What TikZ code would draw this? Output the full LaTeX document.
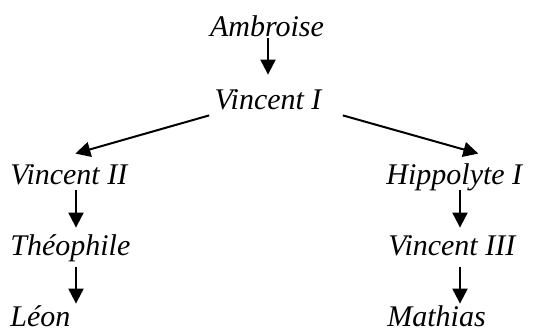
\documentclass[tikz,border=0pt]{standalone}
\usepackage{fontspec}
\setmainfont{Liberation Serif}
\usetikzlibrary{arrows.meta}

\begin{document}
\begin{tikzpicture}[
    x=0.5pt, y=0.5pt,
    person/.style={inner sep=0pt, text height=10pt, text depth=0pt,
        font=\fontsize{15}{18}\selectfont\itshape},
    mid/.style={person, anchor=base},
    col/.style={person, anchor=base west},
    arr/.style={line width=1pt, -{Triangle[width=7.5pt,length=7.5pt]}},
]
    \useasboundingbox (0,0) rectangle (534,331);
    \node [mid] (amb) at (267,294) {Ambroise};
    \node [mid] (vi) at (268,221) {Vincent I};
    \node [col] (v2) at (10,146) {Vincent II};
    \node [col] (theo) at (10,75) {Théophile};
    \node [col] (leon) at (10,4) {Léon};
    \node [col] (hip) at (386,146) {Hippolyte I};
    \node [col] (v3) at (388,75) {Vincent III};
    \node [col] (math) at (387,4) {Mathias};
    \coordinate (left) at (76,0);
    \coordinate (right) at (460,0);

    \draw [arr, shorten <=0.5pt, shorten >=7.5pt] (amb.south -| vi) -- (vi.north);
    \draw [arr] ([shift={(-2.5pt,-2.5pt)}]vi.south west) -- ([shift={(3.25pt,5.5pt)}]v2.north);
    \draw [arr] ([shift={(10.5pt,-2.5pt)}]vi.south east) -- ([shift={(12pt,5.5pt)}]hip.north);
    \draw [arr, shorten <=2.5pt, shorten >=4pt] (v2.south -| left) -- (theo.north -| left);
    \draw [arr, shorten <=5.5pt, shorten >=1.5pt] (theo.south -| left) -- (leon.north -| left);
    \draw [arr, shorten <=2.5pt, shorten >=4pt] (hip.south -| right) -- (v3.north -| right);
    \draw [arr, shorten <=5.5pt, shorten >=1.5pt] (v3.south -| right) -- (math.north -| right);
\end{tikzpicture}
\end{document}
